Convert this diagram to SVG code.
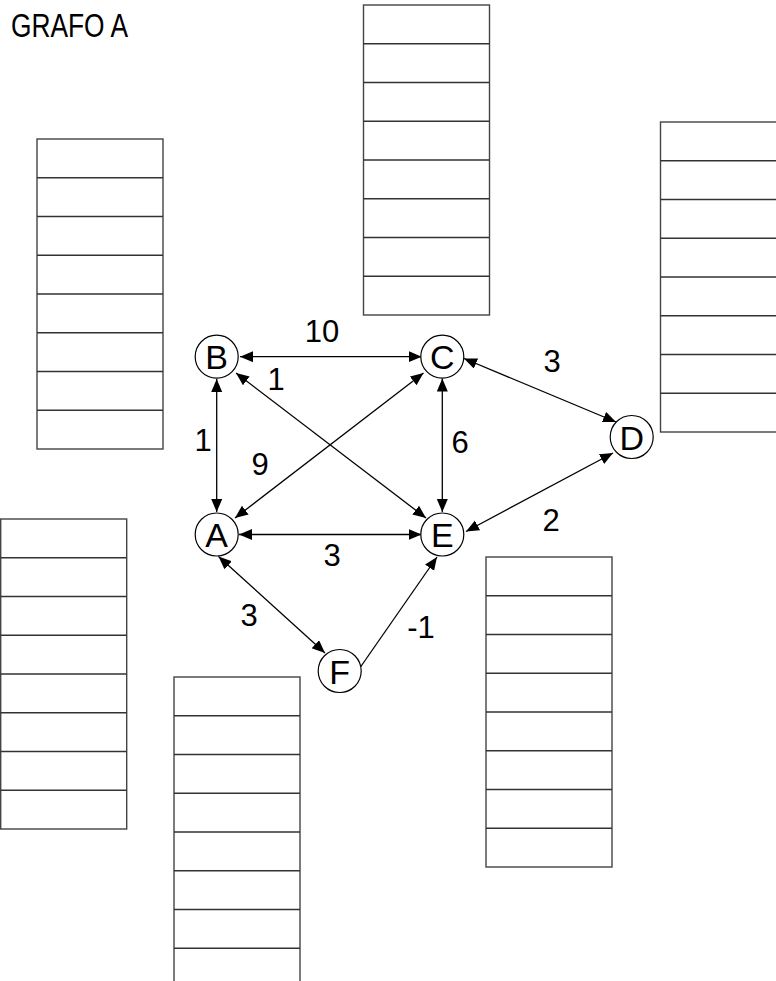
<svg xmlns="http://www.w3.org/2000/svg" width="776" height="981" viewBox="0 0 776 981">
<style>
.tb{fill:#fff;stroke:#444;stroke-width:1.4}
.rl{stroke:#333;stroke-width:1.4}
.nd{fill:#fff;stroke:#000;stroke-width:1.2}
.nt{font-family:"Liberation Sans",Arial,sans-serif;font-size:34px;text-anchor:middle;fill:#000}
.el{font-family:"Liberation Sans",Arial,sans-serif;font-size:31px;text-anchor:middle;fill:#000}
.ed{stroke:#000;stroke-width:1.3;fill:none}
</style>
<defs>
<marker id="ah" markerUnits="userSpaceOnUse" markerWidth="14" markerHeight="12" refX="13" refY="5.5" orient="auto-start-reverse" viewBox="0 0 14 12">
<path d="M0,0 L13,5.5 L0,11 z" fill="#000"/>
</marker>
<g id="tbl">
<rect class="tb" x="0" y="0" width="126" height="310"/>
<path class="rl" d="M0,38.75H126M0,77.5H126M0,116.25H126M0,155H126M0,193.75H126M0,232.5H126M0,271.25H126"/>
</g>
</defs>
<rect width="776" height="981" fill="#fff"/>
<text x="11" y="37" font-family="'Liberation Sans',Arial,sans-serif" font-size="34" textLength="117" lengthAdjust="spacingAndGlyphs">GRAFO A</text>
<g id="tables">
<use href="#tbl" x="37" y="139"/>
<use href="#tbl" x="363.5" y="5"/>
<use href="#tbl" x="660.5" y="122"/>
<use href="#tbl" x="0.7" y="519"/>
<use href="#tbl" x="174" y="677"/>
<use href="#tbl" x="486" y="557"/>
</g>
<g id="edges">
<line class="ed" x1="240" y1="356.7" x2="421.7" y2="356.7" marker-start="url(#ah)" marker-end="url(#ah)"/>
<line class="ed" x1="216.7" y1="379" x2="216.7" y2="512" marker-start="url(#ah)" marker-end="url(#ah)"/>
<line class="ed" x1="236" y1="373" x2="426" y2="518" marker-start="url(#ah)" marker-end="url(#ah)"/>
<line class="ed" x1="235" y1="518" x2="423.5" y2="373" marker-start="url(#ah)" marker-end="url(#ah)"/>
<line class="ed" x1="442.3" y1="378.5" x2="442.3" y2="512" marker-start="url(#ah)" marker-end="url(#ah)"/>
<line class="ed" x1="239" y1="534.5" x2="421.5" y2="534.5" marker-start="url(#ah)" marker-end="url(#ah)"/>
<line class="ed" x1="464" y1="358.5" x2="616" y2="422" marker-start="url(#ah)" marker-end="url(#ah)"/>
<line class="ed" x1="613" y1="453" x2="466" y2="531.5" marker-start="url(#ah)" marker-end="url(#ah)"/>
<line class="ed" x1="218.5" y1="556.5" x2="325" y2="653" marker-start="url(#ah)" marker-end="url(#ah)"/>
<line class="ed" x1="360.5" y1="667" x2="437" y2="557" marker-end="url(#ah)"/>
</g>
<g id="labels">
<text class="el" x="322" y="342">10</text>
<text class="el" x="276" y="390">1</text>
<text class="el" x="203" y="451">1</text>
<text class="el" x="260" y="475">9</text>
<text class="el" x="460" y="453">6</text>
<text class="el" x="332" y="566">3</text>
<text class="el" x="552" y="372">3</text>
<text class="el" x="551" y="531">2</text>
<text class="el" x="249" y="626">3</text>
<text class="el" x="421" y="638">-1</text>
</g>
<g id="node-B"><circle class="nd" cx="216.7" cy="356.7" r="21.5"/><text class="nt" x="216.7" y="369">B</text></g>
<g id="node-C"><circle class="nd" cx="442.3" cy="356.7" r="21.5"/><text class="nt" x="442.3" y="369">C</text></g>
<g id="node-A"><circle class="nd" cx="216.7" cy="534.5" r="21.5"/><text class="nt" x="216.7" y="547">A</text></g>
<g id="node-E"><circle class="nd" cx="442.3" cy="534.5" r="21.5"/><text class="nt" x="442.3" y="547">E</text></g>
<g id="node-D"><circle class="nd" cx="631.7" cy="437" r="21.5"/><text class="nt" x="631.7" y="449.5">D</text></g>
<g id="node-F"><circle class="nd" cx="339.7" cy="671" r="21.5"/><text class="nt" x="339.7" y="683.5">F</text></g>
</svg>
